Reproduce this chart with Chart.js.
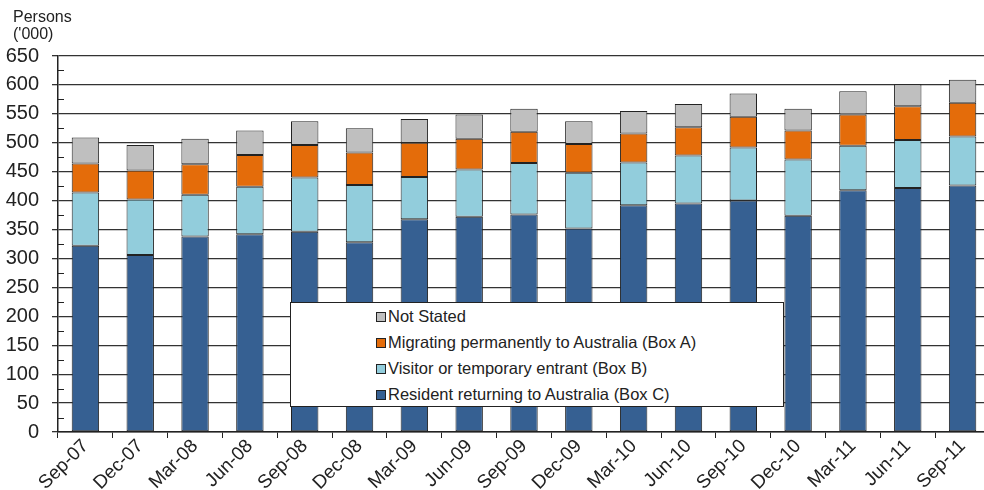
<!DOCTYPE html>
<html>
<head>
<meta charset="utf-8">
<script src="https://cdn.jsdelivr.net/npm/chart.js@4/dist/chart.umd.min.js"></script>
<style>
	html, body { margin: 0; padding: 0; background: #fff; overflow: hidden; }
	#wrap { position: relative; width: 992px; height: 490px; }
	#units { position: absolute; left: 13px; top: 8px; font: 16px "Liberation Sans", Arial, sans-serif; color: #222; line-height: 17px; }
	#legend { position: absolute; left: 290px; top: 302px; width: 492px; height: 103px; background: #fff; border: 1px solid #222; font: 16.5px "Liberation Sans", Arial, sans-serif; color: #222; }
	#legend div { height: 26px; line-height: 26px; padding-left: 85px; white-space: nowrap; }
	#legend span { display: inline-block; width: 8px; height: 8px; border: 1px solid #222; margin-right: 2px; vertical-align: 0px; }
</style>
</head>
<body>
<div id="wrap">
	<canvas id="chart"></canvas>
	<div id="units">Persons<br>('000)</div>
	<div id="legend"></div>
</div>
<script>
const quarters = ["Sep-07", "Dec-07", "Mar-08", "Jun-08", "Sep-08", "Dec-08", "Mar-09", "Jun-09", "Sep-09", "Dec-09", "Mar-10", "Jun-10", "Sep-10", "Dec-10", "Mar-11", "Jun-11", "Sep-11"];
const resident = [322, 306, 338, 342, 346, 328, 368, 372, 376, 352, 392, 395, 400, 374, 418, 422, 426];
const visitor = [92, 96, 72, 82, 94, 99, 73, 82, 89, 96, 74, 83, 92, 97, 77, 83, 85];
const migrating = [50, 50, 53, 55, 56, 56, 59, 53, 54, 50, 50, 49, 53, 50, 54, 58, 58];
const notStated = [45, 44, 44, 42, 41, 42, 41, 42, 40, 39, 39, 40, 40, 38, 40, 38, 40];

Chart.defaults.font.family = "'Liberation Sans', Arial, sans-serif";
Chart.defaults.color = "#222";

// small inside ticks halfway between the labelled ones
const minorTicks = {
	id: "minorTicks",
	afterDraw(chart) {
		const y = chart.scales.y;
		const ctx = chart.ctx;
		ctx.save();
		ctx.strokeStyle = "#222";
		ctx.lineWidth = 1;
		for (let v = 25; v < 650; v += 50) {
			const py = Math.round(y.getPixelForValue(v)) + 0.5;
			ctx.beginPath();
			ctx.moveTo(y.right, py);
			ctx.lineTo(y.right + 6, py);
			ctx.stroke();
		}
		ctx.restore();
	},
};

function bar(label, data, color) {
	return {
		label: label,
		data: data,
		backgroundColor: color,
		borderColor: "#222",
		borderWidth: 1,
		borderSkipped: false,
		barPercentage: 0.5,
		categoryPercentage: 1,
	};
}

const chart = new Chart(document.querySelector("#chart"), {
	type: "bar",
	data: {
		labels: quarters,
		datasets: [
			bar("Resident returning to Australia (Box C)", resident, "#366092"),
			bar("Visitor or temporary entrant (Box B)", visitor, "#92cddc"),
			bar("Migrating permanently to Australia (Box A)", migrating, "#e46c0a"),
			bar("Not Stated", notStated, "#bfbfbf"),
		],
	},
	options: {
		responsive: true,
		maintainAspectRatio: false,
		animation: false,
		layout: { padding: { left: 4, top: 56, right: 2, bottom: 0 } },
		plugins: {
			legend: { display: false },
			tooltip: { enabled: false },
		},
		scales: {
			x: {
				stacked: true,
				grid: { drawOnChartArea: false, tickLength: 6, color: "#222", offset: true },
				border: { color: "#222", width: 1.5 },
				ticks: { font: { size: 19 }, maxRotation: 45, minRotation: 45, padding: -3 },
				afterFit(scale) {
					// the rotated labels hang below, they need no side room
					scale.paddingLeft = 0;
					scale.paddingRight = 0;
					scale.height = 58;
				},
			},
			y: {
				stacked: true,
				min: 0,
				max: 650,
				grid: { color: "#333", lineWidth: 1.3, tickLength: 6 },
				border: { color: "#222", width: 1.5 },
				ticks: { stepSize: 50, font: { size: 20 }, padding: 13 },
				afterFit(scale) {
					scale.width = 54;
				},
			},
		},
	},
	plugins: [minorTicks],
});

const legend = document.querySelector("#legend");
for (const ds of chart.data.datasets.slice().reverse()) {
	const row = document.createElement("div");
	const box = document.createElement("span");
	box.style.background = ds.backgroundColor;
	row.appendChild(box);
	row.appendChild(document.createTextNode(ds.label));
	legend.appendChild(row);
}
</script>
</body>
</html>
